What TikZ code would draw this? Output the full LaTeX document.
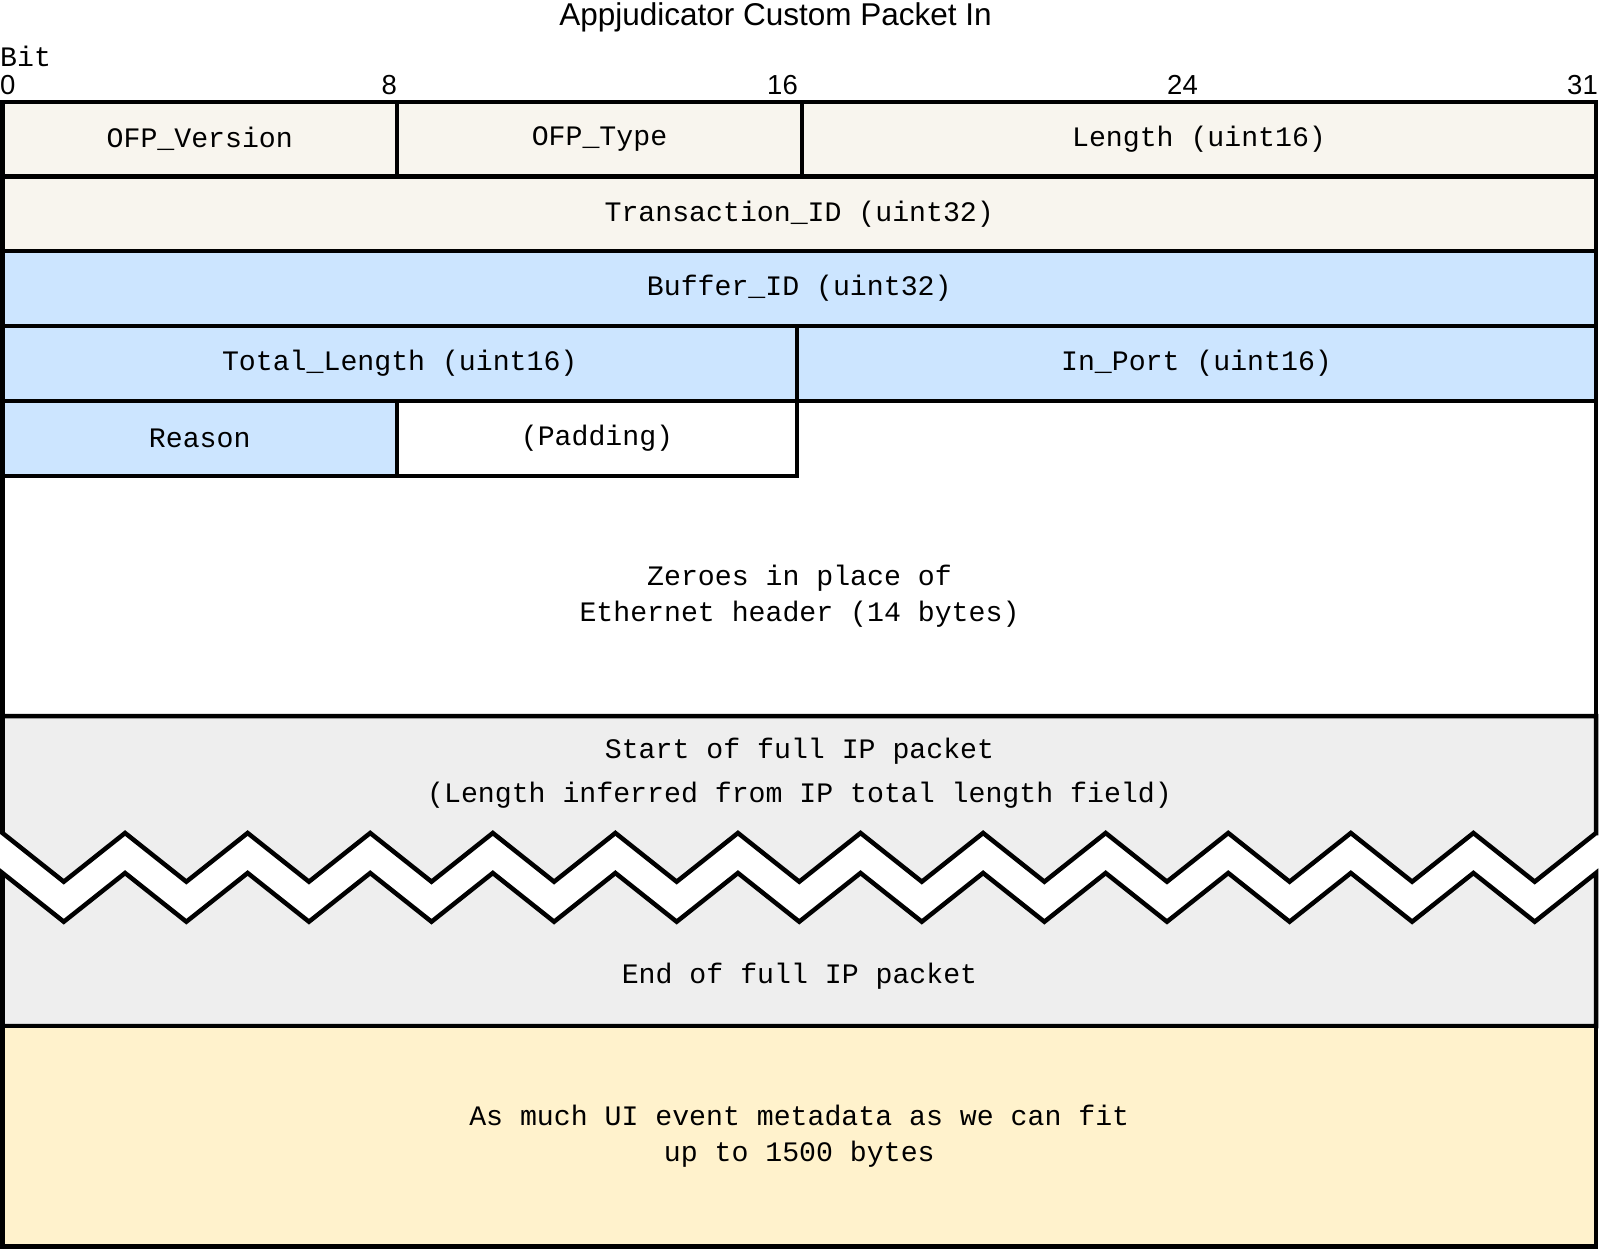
\documentclass[tikz,border=0pt]{standalone}
\usepackage{fontspec}
\setmainfont{Liberation Sans}
\newfontfamily\monof{Liberation Mono}
\definecolor{beigefill}{HTML}{F8F5EE}
\definecolor{bluefill}{HTML}{CCE5FF}
\definecolor{grayfill}{HTML}{EEEEEE}
\definecolor{yellowfill}{HTML}{FFF2CC}
\begin{document}
\begin{tikzpicture}[x=1pt,y=-1pt,
  fieldbox/.style={draw=black, line width=4.5pt, inner sep=0pt, outer sep=0pt, anchor=north west,
    font=\monof\fontsize{28.2}{36}\selectfont, text=black, align=center},
  lbl/.style={font=\monof\fontsize{28.2}{36}\selectfont, inner sep=0pt, text=black, align=center},
  bitnum/.style={font=\fontsize{27.5}{30}\selectfont, inner sep=0pt, text=black},
  outline/.style={draw=black, line width=4.5pt}]
\useasboundingbox (0,0) rectangle (1599,1249);
\fill[white] (0,0) rectangle (1599,1249);

% title and bit scale
\node[font=\fontsize{31.5}{36}\selectfont, inner sep=0pt, anchor=base] (title) at (775.5,26) {Appjudicator Custom Packet In};
\node[lbl, anchor=base west] (bit) at (0,66.5) {Bit};
\node[bitnum, anchor=base west] (b0) at (0,95) {0};
\node[bitnum, anchor=base east] (b8) at (397,95) {8};
\node[bitnum, anchor=base east] (b16) at (798,95) {16};
\node[bitnum, anchor=base east] (b24) at (1198,95) {24};
\node[bitnum, anchor=base east] (b31) at (1598,95) {31};

% row 1
\node[fieldbox, fill=beigefill, minimum width=394.5pt, minimum height=74.5pt] (ver) at (2.5,102) {OFP\_Version};
\node[fieldbox, fill=beigefill, minimum width=405pt, minimum height=74.5pt] (type) at (397,102) {OFP\_Type};
\node[fieldbox, fill=beigefill, minimum width=794pt, minimum height=74.5pt] (len) at (802,102) {Length (uint16)};
% row 2
\node[fieldbox, fill=beigefill, minimum width=1593.5pt, minimum height=74.5pt] (trans) at (2.5,176.5) {Transaction\_ID (uint32)};
% row 3
\node[fieldbox, fill=bluefill, minimum width=1593.5pt, minimum height=75pt] (buf) at (2.5,251) {Buffer\_ID (uint32)};
% row 4
\node[fieldbox, fill=bluefill, minimum width=794.5pt, minimum height=75pt] (total) at (2.5,326) {Total\_Length (uint16)};
\node[fieldbox, fill=bluefill, minimum width=799pt, minimum height=75pt] (inport) at (797,326) {In\_Port (uint16)};
% ethernet block
\node[fieldbox, fill=white, minimum width=1593.5pt, minimum height=315pt] (eth) at (2.5,401) {};
\node[lbl] (ethtext) at (799.5,596) {Zeroes in place of\\Ethernet header (14 bytes)};
% row 5
\node[fieldbox, fill=bluefill, minimum width=394.5pt, minimum height=75pt] (reason) at (2.5,401) {Reason};
\node[fieldbox, fill=white, minimum width=400pt, minimum height=75pt] (pad) at (397,401) {(Padding)};

% IP packet with zigzag break
\path[outline, fill=grayfill] (1596,833) -- (1596,716) -- (2.5,716) -- (2.5,833)
  \foreach \i in {1,...,26} { -- ({2.5+\i*61.288},{833+48.7*mod(\i,2)}) } -- cycle;
\path[outline, fill=grayfill] (2.5,873)
  \foreach \i in {1,...,26} { -- ({2.5+\i*61.288},{873+48.7*mod(\i,2)}) }
  -- (1596,1026) -- (2.5,1026) -- cycle;
\node[lbl] (ipstart) at (799.5,773) {Start of full IP packet\\[8pt](Length inferred from IP total length field)};
\node[lbl] (ipend) at (799.5,976) {End of full IP packet};

% metadata
\node[fieldbox, fill=yellowfill, minimum width=1593.5pt, minimum height=220.5pt] (meta) at (2.5,1026) {As much UI event metadata as we can fit\\up to 1500 bytes};
\end{tikzpicture}
\end{document}
